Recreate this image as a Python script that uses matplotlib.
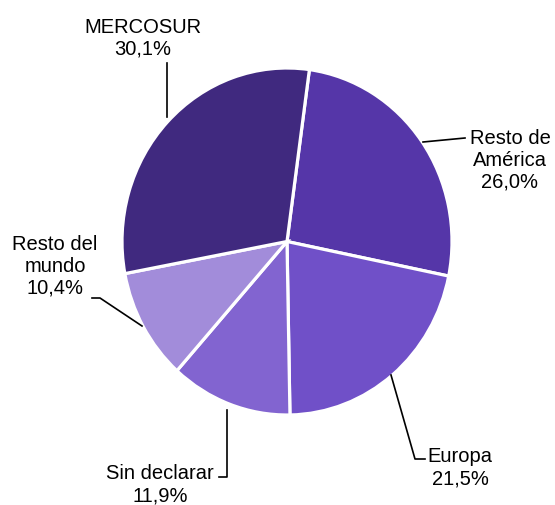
import matplotlib
matplotlib.use("Agg")
import matplotlib.pyplot as plt

categories = ["Resto de\nAmérica", "Europa", "Sin declarar", "Resto del\nmundo", "MERCOSUR"]
values = [26.0, 21.5, 11.9, 10.4, 30.1]
colors = ["#5536A8", "#7050C8", "#8264D0", "#A28CDA", "#40297F"]

plt.rcParams['font.family'] = ['Liberation Sans', 'DejaVu Sans']

W, H = 555, 506
fig = plt.figure(figsize=(W / 100, H / 100), dpi=100)

# pie axes: bounding box of the (slightly elliptical) pie in pixels
left, right, top, bottom = 122, 452, 69, 416
pax = fig.add_axes([left / W, (H - bottom) / H, (right - left) / W, (bottom - top) / H])
pax.pie(values, colors=colors, startangle=82.2, counterclock=False,
        radius=1, frame=True,
        wedgeprops=dict(edgecolor='white', linewidth=2.3))
pax.set_aspect('auto')
pax.set_xlim(-1, 1)
pax.set_ylim(-1, 1)
pax.axis('off')

ax = fig.add_axes([0, 0, 1, 1], zorder=3)
ax.set_xlim(0, W)
ax.set_ylim(0, H)
ax.axis('off')
ax.patch.set_alpha(0)

def lab(i):
    return f"{categories[i]}\n{values[i]:.1f}%".replace('.', ',')

fs = 14.5
def Y(y):
    return H - y

# Resto de America
ax.plot([423, 465], [Y(143), Y(139)], color='black', lw=1.2)
ax.text(510, Y(160), lab(0), ha='center', va='center', fontsize=fs, linespacing=1.2)
# Europa
ax.plot([391, 415, 425], [Y(376), Y(460), Y(460)], color='black', lw=1.2)
ax.text(460, Y(468), lab(1), ha='center', va='center', fontsize=fs, linespacing=1.2)
# Sin declarar
ax.plot([227, 227, 219], [Y(411), Y(478), Y(478)], color='black', lw=1.2)
ax.text(160, Y(485), lab(2), ha='center', va='center', fontsize=fs, linespacing=1.2)
# Resto del mundo
ax.plot([92, 100, 142], [Y(299), Y(299), Y(327)], color='black', lw=1.2)
ax.text(55, Y(266), lab(3), ha='center', va='center', fontsize=fs, linespacing=1.2)
# MERCOSUR
ax.plot([167, 167], [Y(64), Y(118)], color='black', lw=1.2)
ax.text(143, Y(38), lab(4), ha='center', va='center', fontsize=fs, linespacing=1.2)

fig.savefig("out.png", dpi=100, facecolor='white')
